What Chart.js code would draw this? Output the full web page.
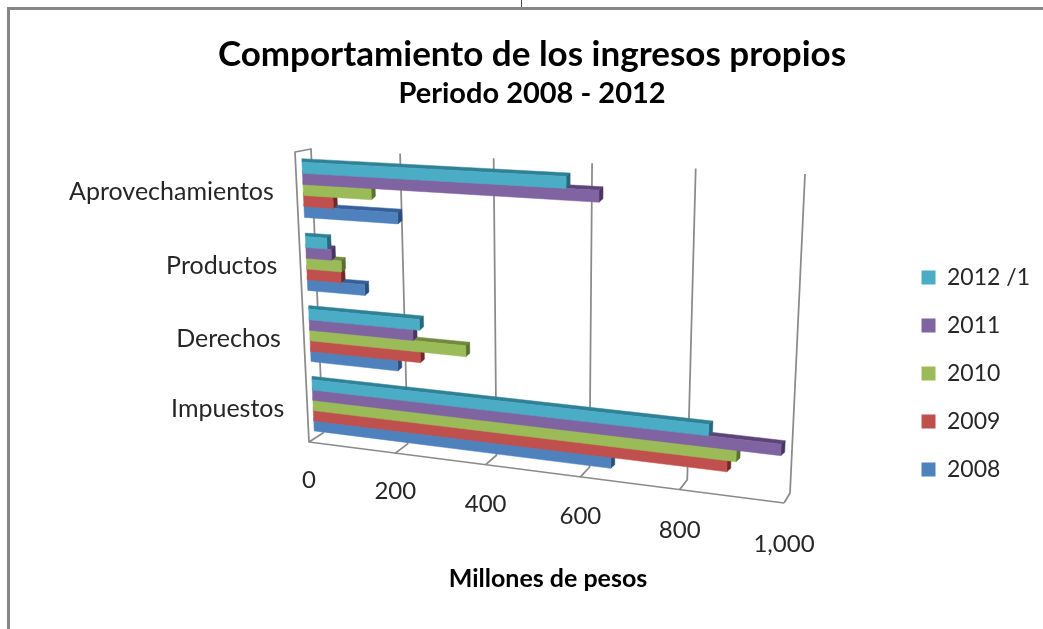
<!DOCTYPE html>
<html>
<head>
<meta charset="utf-8">
<title>Comportamiento de los ingresos propios</title>
<script src="https://cdn.jsdelivr.net/npm/chart.js@4"></script>
<style>
  html, body { margin: 0; padding: 0; background: #fff; overflow: hidden; }
  #wrap { position: relative; width: 1043px; height: 629px; }
  #frame { position: absolute; left: 7px; top: 7px; right: -4px; bottom: -4px; border-left: 3px solid #868686; border-top: 3px solid #868686; }
  #tick { position: absolute; left: 521px; top: 0; width: 1px; height: 7px; background: #444; }
  canvas { position: absolute; left: 0; top: 0; }
</style>
</head>
<body>
<div id="wrap">
  <div id="frame"></div>
  <div id="tick"></div>
  <canvas id="myChart" width="1043" height="629"></canvas>
</div>
<script>
var categories = ['Aprovechamientos', 'Productos', 'Derechos', 'Impuestos'];
var years = ['2012 /1', '2011', '2010', '2009', '2008'];

var values2012 = [562, 49, 251, 848];
var values2011 = [627, 58, 236, 986];
var values2010 = [153, 80, 351, 902];
var values2009 = [67, 78, 251, 885];
var values2008 = [210, 131, 200, 655];

var colors = ['#4BACC6', '#8064A2', '#9BBB59', '#C0504D', '#4F81BD'];
var topColors = ['#2F8197', '#5C4378', '#71893C', '#8E3431', '#35609A'];
var endColors = ['#25687A', '#4A3562', '#5B6F2F', '#742826', '#2A4D7C'];

var FONT = 'Lato';
var GREY = '#8A8A8A';

// maps the unit square onto a four sided shape (a=0,0 b=1,0 c=1,1 d=0,1)
function makeQuad(a, b, c, d) {
  var dx1 = b[0] - c[0], dx2 = d[0] - c[0], sx = a[0] - b[0] + c[0] - d[0];
  var dy1 = b[1] - c[1], dy2 = d[1] - c[1], sy = a[1] - b[1] + c[1] - d[1];
  var den = dx1 * dy2 - dx2 * dy1;
  var g = (sx * dy2 - dx2 * sy) / den;
  var h = (dx1 * sy - sx * dy1) / den;
  var A = b[0] - a[0] + g * b[0], B = d[0] - a[0] + h * d[0];
  var D = b[1] - a[1] + g * b[1], E = d[1] - a[1] + h * d[1];
  return function(u, v) {
    var w = g * u + h * v + 1;
    return [(A * u + B * v + a[0]) / w, (D * u + E * v + a[1]) / w];
  };
}

var backWall = makeQuad([311, 149], [805, 174], [790, 493], [323, 433]);
var frontWall = makeQuad([295, 152], [797, 178], [784, 503], [309, 442]);

// u along the value axis, t down the category axis, d from back (0) to front (1)
function project(u, t, d) {
  var p = backWall(u, t), q = frontWall(u, t);
  return [p[0] + (q[0] - p[0]) * d, p[1] + (q[1] - p[1]) * d];
}

function line(ctx, pts) {
  ctx.beginPath();
  ctx.moveTo(pts[0][0], pts[0][1]);
  for (var i = 1; i < pts.length; i++) ctx.lineTo(pts[i][0], pts[i][1]);
  ctx.stroke();
}

function face(ctx, pts, color) {
  ctx.fillStyle = color;
  ctx.strokeStyle = color;
  ctx.lineWidth = 0.5;
  ctx.beginPath();
  ctx.moveTo(pts[0][0], pts[0][1]);
  for (var i = 1; i < pts.length; i++) ctx.lineTo(pts[i][0], pts[i][1]);
  ctx.closePath();
  ctx.fill();
  ctx.stroke();
}

var BAR_FRONT = 0.6, BAR_DROP = 0.005, DEPTH_X = 4, DEPTH_Y = 3.5;

// the library lays out the bars, this draws them in the tilted view
var tilted3d = {
  id: 'tilted3d',
  beforeDatasetsDraw: function(chart) {
    var ctx = chart.ctx, area = chart.chartArea;
    var xs = chart.scales.x, ys = chart.scales.y;
    var uOf = function(px) { return (px - area.left) / area.width; };
    var tOf = function(py) { return (py - area.top) / area.height; };

    ctx.save();
    ctx.strokeStyle = GREY;
    ctx.lineWidth = 1.75;
    ctx.lineJoin = 'round';

    // side wall and floor edge
    line(ctx, [project(0, 1, 1), project(0, 0, 1), project(0, 0, 0), project(0, 1, 0), project(0, 1, 1), project(1, 1, 1)]);

    // grid lines and value labels
    ctx.font = '24px ' + FONT;
    ctx.textAlign = 'center';
    ctx.textBaseline = 'middle';
    xs.ticks.forEach(function(tick) {
      var u = uOf(xs.getPixelForValue(tick.value));
      if (tick.value > 0) {
        line(ctx, [project(u, 0, 0), project(u, 1, 0), project(u, 1, 1)]);
      }
      var p = project(u, 1, 1);
      ctx.fillStyle = '#262626';
      ctx.fillText(tick.label, p[0], p[1] + 38 + u * 3);
    });

    // category labels
    ctx.font = '25px ' + FONT;
    ctx.textAlign = 'right';
    ys.getLabels().forEach(function(label, i) {
      var p = project(0, tOf(ys.getPixelForTick(i)), 1);
      ctx.fillStyle = '#262626';
      ctx.fillText(label, p[0] - 23, p[1] + 2);
    });

    // bars, lowest of each group first so the one above hides its top
    for (var s = chart.data.datasets.length - 1; s >= 0; s--) {
      chart.getDatasetMeta(s).data.forEach(function(el) {
        var u0 = uOf(el.base), u1 = uOf(el.x);
        var t0 = tOf(el.y - el.height / 2) + BAR_DROP, t1 = tOf(el.y + el.height / 2) + BAR_DROP;
        var a = project(u0, t0, BAR_FRONT), b = project(u1, t0, BAR_FRONT);
        var c = project(u1, t1, BAR_FRONT), d = project(u0, t1, BAR_FRONT);
        var ab = [a[0], a[1] - DEPTH_Y];
        var bb = [b[0] + DEPTH_X, b[1] - DEPTH_Y];
        var cb = [c[0] + DEPTH_X, c[1] - DEPTH_Y];
        face(ctx, [ab, bb, b, a], topColors[s]);
        face(ctx, [bb, cb, c, b], endColors[s]);
        face(ctx, [a, b, c, d], colors[s]);
      });
    }

    // axis title
    ctx.font = 'bold 25px ' + FONT;
    ctx.fillStyle = '#000';
    ctx.textAlign = 'center';
    ctx.fillText('Millones de pesos', 548, 579);
    ctx.restore();
    return false;
  }
};

var datasets = [values2012, values2011, values2010, values2009, values2008].map(function(values, i) {
  return {
    label: years[i],
    data: values,
    backgroundColor: colors[i],
    categoryPercentage: 0.74,
    barPercentage: 1
  };
});

new Chart(document.getElementById('myChart').getContext('2d'), {
  type: 'bar',
  plugins: [tilted3d],
  data: { labels: categories, datasets: datasets },
  options: {
    indexAxis: 'y',
    responsive: false,
    animation: false,
    layout: { padding: { left: 24, top: 34, right: 3, bottom: 123 } },
    scales: {
      x: {
        min: 0,
        max: 1000,
        ticks: {
          display: false,
          stepSize: 200,
          callback: function(v) { return v.toLocaleString('en-US'); }
        },
        grid: { display: false },
        border: { display: false }
      },
      y: {
        ticks: { display: false },
        grid: { display: false },
        border: { display: false }
      }
    },
    plugins: {
      title: {
        display: true,
        text: 'Comportamiento de los ingresos propios',
        color: '#000',
        font: { family: FONT, size: 35, weight: 'bold' },
        padding: { top: 0, bottom: 0 }
      },
      subtitle: {
        display: true,
        text: 'Periodo 2008 - 2012',
        color: '#000',
        font: { family: FONT, size: 29, weight: 'bold' },
        padding: { top: 0, bottom: 10 }
      },
      legend: {
        position: 'right',
        align: 'end',
        labels: {
          boxWidth: 14,
          boxHeight: 14,
          padding: 25,
          color: '#262626',
          font: { family: FONT, size: 23 }
        }
      },
      tooltip: { enabled: false }
    }
  }
});
</script>
</body>
</html>
